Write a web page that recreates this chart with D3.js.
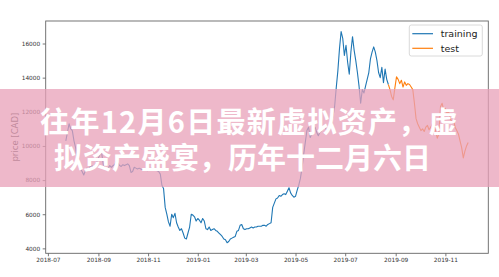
<!DOCTYPE html>
<html><head><meta charset="utf-8">
<script src="https://cdn.jsdelivr.net/npm/d3@7"></script>
<style>body{margin:0;background:#fff;} svg{display:block;}</style>
</head><body><svg id="c" width="499" height="277"></svg>
<script>
const trainStart = "2018-07-23";
const testStart = "2019-08-23";
const stepDays = 2;
const trainValues = [
10300,10800,11300,11000,10900,10300,9900,9100,9000,8650,
8500,8300,8550,8700,8650,8800,8850,8700,8900,9050,
9300,9500,9600,8900,8750,8650,8700,8850,8750,8850,
8900,9100,9000,8850,8800,8900,8850,8900,8950,8850,
8450,8500,8750,8700,8650,8700,8650,8600,8650,8600,
8550,8600,8650,8750,8700,8600,8550,8500,8350,7700,
7500,6400,6000,5550,5300,6000,5800,6050,5500,5250,
5050,5150,4900,4600,4550,4900,5250,6000,5950,5850,
5600,5750,5650,5500,5750,5600,5150,5100,5250,5050,
5100,5150,5050,5000,4900,4800,4700,4550,4500,4330,
4400,4550,4600,4650,4700,5000,5050,5350,5400,5150,
5100,5150,5150,5200,5250,5200,5250,5250,5300,5300,
5300,5350,5350,5300,5400,5450,5500,6400,6650,6900,
6950,7100,7050,7150,7200,7150,7350,7550,7250,7100,
7000,7050,7400,7700,8100,8700,9500,10200,10900,11100,
10500,10700,10900,11100,10800,10600,10800,10900,11050,11100,
10950,10900,11100,11300,11700,12300,13400,14400,15700,16700,
16300,15300,15900,14900,14200,15500,16400,15600,15000,14300,
13500,12500,13300,13100,13500,13900,14300,15100,15500,15800,
15500,15000,14300,14000,14600,13700,14500,13900,13600
];
const testValues = [
13600,13300,12900,12700,13400,14050,13900,13650,13850,13450,
13750,13550,13650,13600,13450,13300,12500,11600,11300,11100,
10900,11000,10850,11100,11200,10950,11100,11300,11200,10900,
10450,10700,12300,12500,12100,12200,11900,12000,11600,11400,
11500,11100,10900,10700,10300,9900,9300,9700,10000,10200
];
const seriesNames = ["training", "test"];
const seriesColors = ["#1f77b4", "#ff7f0e"];
const yTicks = [4000, 6000, 8000, 10000, 12000, 14000, 16000];
const xTickLabels = ["2018-07","2018-09","2018-11","2019-01","2019-03","2019-05","2019-07","2019-09","2019-11"];
const yLabel = "price [CAD]";
const titleLines = ["往年12月6日最新虚拟资产，虚", "拟资产盛宴，历年十二月六日"];

const parseDay = d3.utcParse("%Y-%m-%d");
const parseMonth = d3.utcParse("%Y-%m");
function toSeries(start, vals) {
  const s = parseDay(start);
  return vals.map((v, i) => ({date: d3.utcDay.offset(s, i * stepDays), value: v}));
}
const train = toSeries(trainStart, trainValues);
const test = toSeries(testStart, testValues);
const all = train.concat(test);

const L = 45.7, R = 488.3, T = 21, B = 253.3;
const svg = d3.select("#c");

const xExt = d3.extent(all, d => d.date);
const xPad = (xExt[1] - xExt[0]) * 0.05;
const x = d3.scaleUtc().domain([new Date(+xExt[0] - xPad), new Date(+xExt[1] + xPad)]).range([L, R]);
const yExt = d3.extent(all, d => d.value);
const yPad = (yExt[1] - yExt[0]) * 0.05;
const y = d3.scaleLinear().domain([yExt[0] - yPad, yExt[1] + yPad]).range([B, T]);

const fontAx = "DejaVu Sans, sans-serif";

const line = d3.line().x(d => x(d.date)).y(d => y(d.value));
[train, test].forEach((s, i) => {
  svg.append("path").datum(s).attr("d", line)
    .attr("fill", "none").attr("stroke", seriesColors[i]).attr("stroke-width", 1.1)
    .attr("stroke-linejoin", "round");
});

// axes
const xAxis = d3.axisBottom(x).tickValues(xTickLabels.map(parseMonth))
  .tickFormat(d3.utcFormat("%Y-%m")).tickSize(3).tickPadding(2);
const gx = svg.append("g").attr("transform", `translate(0,${B})`).call(xAxis);
const yAxis = d3.axisLeft(y).tickValues(yTicks).tickFormat(d3.format("d")).tickSize(3).tickPadding(2.5);
const gy = svg.append("g").attr("transform", `translate(${L},0)`).call(yAxis);
[gx, gy].forEach(g => {
  g.select(".domain").remove();
  g.selectAll("line").attr("stroke", "#555").attr("stroke-width", 0.8);
  g.selectAll("text").attr("font-family", fontAx).attr("font-size", 5.8).attr("fill", "#333");
});

svg.append("rect").attr("x", L).attr("y", T).attr("width", R - L).attr("height", B - T)
  .attr("fill", "none").attr("stroke", "#666").attr("stroke-width", 0.9);

svg.append("text").attr("transform", `translate(14.5,${(T + B) / 2}) rotate(-90)`)
  .attr("text-anchor", "middle").attr("dominant-baseline", "central")
  .attr("font-family", fontAx).attr("font-size", 8.5).attr("fill", "#444").text(yLabel);

// legend
const lg = svg.append("g");
lg.append("rect").attr("x", 409.3).attr("y", 25).attr("width", 73).attr("height", 31).attr("rx", 2)
  .attr("fill", "#fff").attr("fill-opacity", 0.8).attr("stroke", "#d0d0d0").attr("stroke-width", 0.8);
seriesNames.forEach((n, i) => {
  const yy = 33.7 + i * 14.6;
  lg.append("line").attr("x1", 412.3).attr("x2", 433).attr("y1", yy).attr("y2", yy)
    .attr("stroke", seriesColors[i]).attr("stroke-width", 1.2);
  lg.append("text").attr("x", 440.7).attr("y", yy).attr("dominant-baseline", "central")
    .attr("font-family", fontAx).attr("font-size", 9.5).attr("fill", "#222").text(n);
});

// banner overlay
svg.append("rect").attr("x", 0).attr("y", 89).attr("width", 499).attr("height", 98)
  .attr("fill", "#e8a0b8").attr("fill-opacity", 0.75);
const tx = [249.5, 242.5], ty = [133, 169], ls = [1.3, 0];
const title = svg.append("text").attr("text-anchor", "middle")
  .attr("font-family", "Noto Sans CJK SC, sans-serif").attr("font-weight", 700)
  .attr("font-size", 29).attr("fill", "#fff");
titleLines.forEach((t, i) => {
  title.append("tspan").attr("x", tx[i]).attr("y", ty[i]).attr("letter-spacing", ls[i]).text(t);
});
</script></body></html>
